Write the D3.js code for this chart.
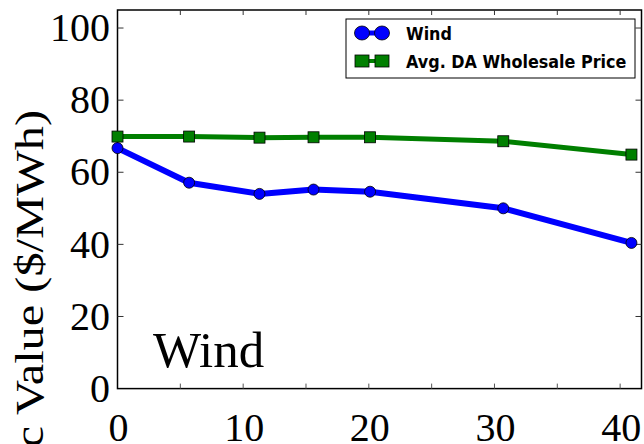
<!DOCTYPE html>
<html>
<head>
<meta charset="utf-8">
<script src="https://cdn.jsdelivr.net/npm/d3@7"></script>
<style>
  body { margin: 0; background: #fff; }
  svg { display: block; }
</style>
</head>
<body>
<svg id="chart" width="644" height="444"></svg>
<script>
// wind penetration (%) on x, value in $/MWh on y
const penetration = [0, 5.7, 11.3, 15.6, 20.1, 30.7, 40.9];
const windValue = [66.7, 57.1, 54.0, 55.2, 54.6, 50.0, 40.4];
const priceValue = [69.9, 69.9, 69.6, 69.7, 69.7, 68.6, 64.9];
const xTicks = [0, 10, 20, 30, 40];
const yTicks = [0, 20, 40, 60, 80, 100];
const seriesNames = ['Wind', 'Avg. DA Wholesale Price'];

const svg = d3.select('#chart');

const x = d3.scaleLinear().domain([0, 41.7]).range([117.5, 641.5]);
const y = d3.scaleLinear().domain([0, 105]).range([388.6, 10]);

const serif = '"Liberation Serif", "Times New Roman", serif';

// frame
svg.append('rect')
    .attr('x', x(0)).attr('y', y(105))
    .attr('width', x(41.7) - x(0)).attr('height', y(0) - y(105))
    .attr('fill', 'none').attr('stroke', '#000').attr('stroke-width', 1.5);

// inward ticks
const minorX = d3.range(5, 41, 5);
svg.append('g').selectAll('line').data(minorX).join('line')
    .attr('x1', d => x(d)).attr('x2', d => x(d))
    .attr('y1', y(0)).attr('y2', y(0) - 5)
    .attr('stroke', '#555').attr('stroke-width', 1);
svg.append('g').selectAll('line').data(minorX).join('line')
    .attr('x1', d => x(d)).attr('x2', d => x(d))
    .attr('y1', y(105)).attr('y2', y(105) + 5)
    .attr('stroke', '#333').attr('stroke-width', 1);
svg.append('g').selectAll('line').data(yTicks.slice(1)).join('line')
    .attr('x1', x(0)).attr('x2', x(0) + 6)
    .attr('y1', d => y(d)).attr('y2', d => y(d))
    .attr('stroke', '#333').attr('stroke-width', 1);
svg.append('g').selectAll('line').data(yTicks.slice(1)).join('line')
    .attr('x1', x(41.7)).attr('x2', x(41.7) - 6)
    .attr('y1', d => y(d)).attr('y2', d => y(d))
    .attr('stroke', '#333').attr('stroke-width', 1);

// tick labels
svg.append('g').selectAll('text').data(yTicks).join('text')
    .attr('x', 110).attr('y', d => y(d)).attr('dy', '0.33em')
    .attr('text-anchor', 'end')
    .style('font-family', serif).style('font-size', '40px')
    .text(d => d);
svg.append('g').selectAll('text').data(xTicks).join('text')
    .attr('x', d => x(d) + 1).attr('y', 441)
    .attr('text-anchor', 'middle')
    .style('font-family', serif).style('font-size', '40px')
    .text(d => d);

// y axis title, runs off the bottom edge like the reference
svg.append('text')
    .attr('transform', 'translate(43,110) rotate(-90) scale(1.18,1)')
    .attr('text-anchor', 'end')
    .style('font-family', serif).style('font-size', '41px')
    .text('Economic Value ($/MWh)');

// panel label
svg.append('text')
    .attr('x', 153).attr('y', 367)
    .style('font-family', serif).style('font-size', '51px')
    .text('Wind');

const line = d3.line().x(d => x(d[0])).y(d => y(d[1]));

const priceData = d3.zip(penetration, priceValue);
const windData = d3.zip(penetration, windValue);

svg.append('path').datum(priceData)
    .attr('d', line).attr('fill', 'none')
    .attr('stroke', '#007f00').attr('stroke-width', 5).attr('stroke-linejoin', 'round');
svg.append('g').selectAll('rect').data(priceData).join('rect')
    .attr('x', d => x(d[0]) - 5.5).attr('y', d => y(d[1]) - 5.5)
    .attr('width', 11).attr('height', 11)
    .attr('fill', '#007f00').attr('stroke', '#000').attr('stroke-width', 0.8);

svg.append('path').datum(windData)
    .attr('d', line).attr('fill', 'none')
    .attr('stroke', '#0000ff').attr('stroke-width', 6).attr('stroke-linejoin', 'round');
svg.append('g').selectAll('circle').data(windData).join('circle')
    .attr('cx', d => x(d[0])).attr('cy', d => y(d[1])).attr('r', 5.5)
    .attr('fill', '#0000ff').attr('stroke', '#000').attr('stroke-width', 0.8);

// legend
const leg = svg.append('g');
leg.append('rect')
    .attr('x', 346).attr('y', 19).attr('width', 289).attr('height', 59)
    .attr('fill', '#fff').attr('stroke', '#000').attr('stroke-width', 1);

const rows = [
  { name: seriesNames[0], color: '#0000ff', shape: 'circle', cy: 33 },
  { name: seriesNames[1], color: '#007f00', shape: 'square', cy: 61 }
];
rows.forEach(r => {
  leg.append('line')
      .attr('x1', 362).attr('x2', 382).attr('y1', r.cy).attr('y2', r.cy)
      .attr('stroke', r.color).attr('stroke-width', r.shape === 'circle' ? 5 : 4);
  [362, 382].forEach(cx => {
    if (r.shape === 'circle') {
      leg.append('ellipse').attr('cx', cx).attr('cy', r.cy).attr('rx', 7.5).attr('ry', 7)
          .attr('fill', r.color).attr('stroke', '#000').attr('stroke-width', 0.8);
    } else {
      leg.append('rect').attr('x', cx - 7).attr('y', r.cy - 6).attr('width', 14).attr('height', 12)
          .attr('fill', r.color).attr('stroke', '#000').attr('stroke-width', 0.8);
    }
  });
  leg.append('text')
      .attr('x', 406).attr('y', r.cy + 7)
      .attr('transform', `translate(0,${-(r.cy + 7) * 0.12}) scale(1,1.12)`)
      .style('font-family', '"DejaVu Sans", Verdana, sans-serif')
      .style('font-weight', 'bold').style('font-size', '16px')
      .text(r.name);
});
</script>
</body>
</html>
